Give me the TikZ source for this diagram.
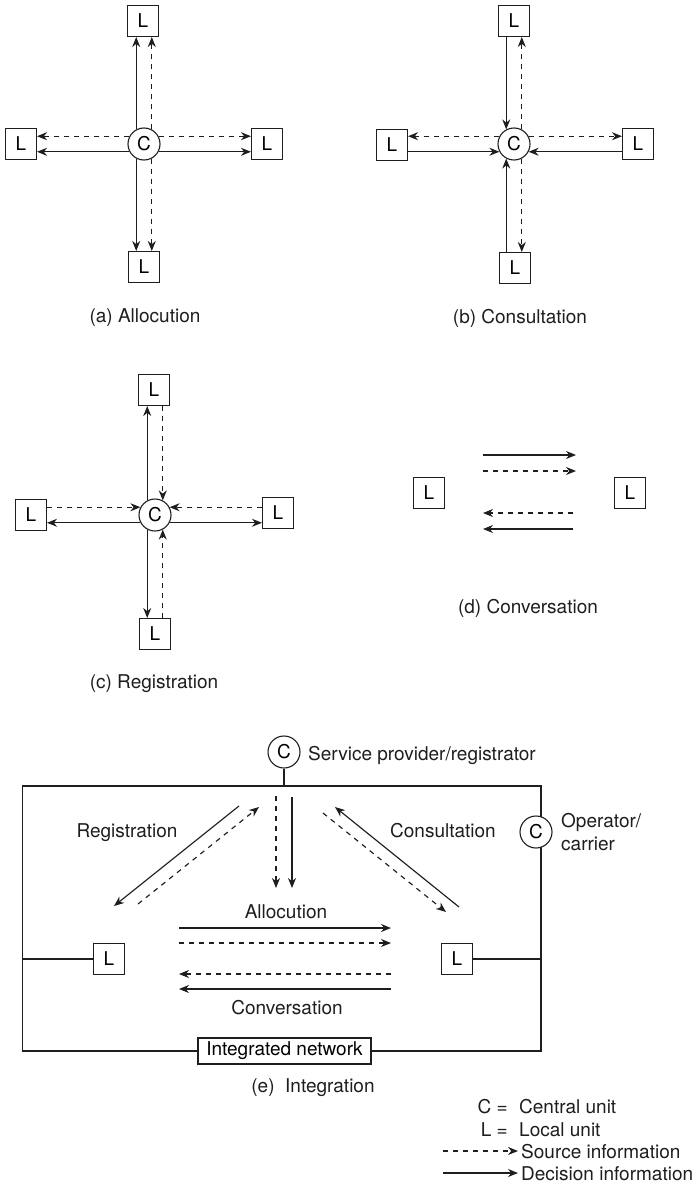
\documentclass[tikz,border=0pt]{standalone}
\usepackage{fontspec}
\setmainfont{TeX Gyre Heros}
\usetikzlibrary{arrows.meta,calc}
\definecolor{ink}{HTML}{1E1E1E}
\tikzset{
  ln/.style={line width=1.15pt, draw=ink},
  sol/.style={ln, -{Stealth[length=10pt,width=8pt]}},
  dsh/.style={sol, dash pattern=on 5pt off 5pt},
  cu/.style={circle, draw=ink, line width=1.1pt, minimum size=32pt, inner sep=0pt, fill=white},
  lu/.style={rectangle, draw=ink, line width=1.1pt, minimum size=31pt, inner sep=0pt, fill=white},
  lbl/.style={inner sep=0pt, text=ink}
}
\begin{document}
\begin{tikzpicture}[x=1pt,y=-1pt,font=\fontsize{19}{22}\selectfont]
\fill[white] (0,0) rectangle (691,1188);
\useasboundingbox (0,0) rectangle (691,1188);

% ---------- (a) Allocution ----------
\node[cu] (Ca) at (144,144) {C};
\node[lu] (Lat) at (143,21) {L};
\node[lu] (Lal) at (21,144) {L};
\node[lu] (Lar) at (267,144) {L};
\node[lu] (Lab) at (144,267) {L};
\draw[sol] (Ca.118) -- (Ca.118 |- Lat.south);
\draw[dsh] (Ca.62) -- (Ca.62 |- Lat.south);
\draw[dsh] (Ca.152) -- (Ca.152 -| Lal.east);
\draw[sol] (Ca.208) -- (Ca.208 -| Lal.east);
\draw[dsh] (Ca.28) -- (Ca.28 -| Lar.west);
\draw[sol] (Ca.332) -- (Ca.332 -| Lar.west);
\draw[sol] (Ca.242) -- (Ca.242 |- Lab.north);
\draw[dsh] (Ca.298) -- (Ca.298 |- Lab.north);
\node[lbl] (capa) at (145,318) {(a) Allocution};

% ---------- (b) Consultation ----------
\node[cu] (Cb) at (514,144) {C};
\node[lu] (Lbt) at (514,21) {L};
\node[lu] (Lbl) at (392,145) {L};
\node[lu] (Lbr) at (638,144) {L};
\node[lu] (Lbb) at (515,268) {L};
\draw[sol] (Cb.118 |- Lbt.south) -- (Cb.118);
\draw[dsh] (Cb.62) -- (Cb.62 |- Lbt.south);
\draw[dsh] (Cb.152) -- (Cb.152 -| Lbl.east);
\draw[sol] (Cb.208 -| Lbl.east) -- (Cb.208);
\draw[dsh] (Cb.28) -- (Cb.28 -| Lbr.west);
\draw[sol] (Cb.332 -| Lbr.west) -- (Cb.332);
\draw[sol] (Cb.242 |- Lbb.north) -- (Cb.242);
\draw[dsh] (Cb.298) -- (Cb.298 |- Lbb.north);
\node[lbl] (capb) at (520,318) {(b) Consultation};

% ---------- (c) Registration ----------
\node[cu] (Cc) at (155,515) {C};
\node[lu] (Lct) at (154,390) {L};
\node[lu] (Lcl) at (31,515) {L};
\node[lu] (Lcr) at (278,513) {L};
\node[lu] (Lcb) at (155,634) {L};
\draw[sol] (Cc.118) -- (Cc.118 |- Lct.south);
\draw[dsh] (Cc.62 |- Lct.south) -- (Cc.62);
\draw[dsh] (Cc.152 -| Lcl.east) -- (Cc.152);
\draw[sol] (Cc.208) -- (Cc.208 -| Lcl.east);
\draw[dsh] (Cc.28 -| Lcr.west) -- (Cc.28);
\draw[sol] (Cc.332) -- (Cc.332 -| Lcr.west);
\draw[sol] (Cc.242) -- (Cc.242 |- Lcb.north);
\draw[dsh] (Cc.298 |- Lcb.north) -- (Cc.298);
\node[lbl] (capc) at (154,684) {(c) Registration};

% ---------- (d) Conversation ----------
\node[lu] (Ldl) at (429,493) {L};
\node[lu] (Ldr) at (630,493) {L};
\coordinate (d1a) at (483,455); \coordinate (d1b) at (576,455);
\coordinate (d2a) at (483,471); \coordinate (d2b) at (576,471);
\coordinate (d3a) at (573,513); \coordinate (d3b) at (483,513);
\coordinate (d4a) at (573,529); \coordinate (d4b) at (483,529);
\draw[sol] (d1a) -- (d1b);
\draw[dsh] (d2a) -- (d2b);
\draw[dsh] (d3a) -- (d3b);
\draw[sol] (d4a) -- (d4b);
\node[lbl] (capd) at (528,608) {(d) Conversation};

% ---------- (e) Integration ----------
\node[draw=ink, line width=1.1pt, minimum width=518.3pt, minimum height=265pt, inner sep=0pt] (net) at (281.85,918.5) {};
\node[cu] (Cet) at (284,752) {C};
\node[lbl, anchor=base west] (sp) at (308,760) {Service provider/registrator};
\draw[ln] (Cet.south) -- (Cet.south |- net.north);
\node[cu] (Cer) at (536,832) {C};
\node[lbl, anchor=base west] (op1) at (561,827) {Operator/};
\node[lbl, anchor=base west] (op2) at (561,850) {carrier};
\node[lu] (Lel) at (109,959) {L};
\node[lu] (Ler) at (457,959) {L};
\draw[ln] (Lel.west) -- (Lel.west -| net.west);
\draw[ln] (Ler.east) -- (Ler.east -| net.east);
\node[draw=ink, line width=1.1pt, fill=white, minimum width=173pt, minimum height=26pt, inner sep=0pt] (inet) at (284.5,1051) {Integrated network};

% registration
\coordinate (r1a) at (239,806); \coordinate (r1b) at (114,906);
\coordinate (r2a) at (138,904); \coordinate (r2b) at (259,807);
\draw[sol] (r1a) -- (r1b);
\draw[dsh] (r2a) -- (r2b);
\node[lbl, anchor=base] (treg) at (127,837) {Registration};
% consultation
\coordinate (c1a) at (459,907); \coordinate (c1b) at (335,807);
\coordinate (c2a) at (323,813); \coordinate (c2b) at (446,912);
\draw[sol] (c1a) -- (c1b);
\draw[dsh] (c2a) -- (c2b);
\node[lbl, anchor=base] (tcon) at (443,837) {Consultation};
% allocution vertical
\coordinate (v1a) at (276,796); \coordinate (v1b) at (276,888);
\coordinate (v2a) at (292,797); \coordinate (v2b) at (292,888);
\draw[dsh] (v1a) -- (v1b);
\draw[sol] (v2a) -- (v2b);
\node[lbl, anchor=base] (tall) at (286,918) {Allocution};
% horizontal
\coordinate (h1a) at (179,928); \coordinate (h1b) at (391,928);
\coordinate (h2a) at (179,943); \coordinate (h2b) at (391,943);
\coordinate (h3a) at (391,974); \coordinate (h3b) at (179,974);
\coordinate (h4a) at (391,989); \coordinate (h4b) at (179,989);
\draw[sol] (h1a) -- (h1b);
\draw[dsh] (h2a) -- (h2b);
\draw[dsh] (h3a) -- (h3b);
\draw[sol] (h4a) -- (h4b);
\node[lbl, anchor=base] (tconv) at (287,1014) {Conversation};
\node[lbl] (cape) at (313,1088) {(e)\ \ Integration};

% ---------- legend ----------
\node[lbl, anchor=base east] (kc) at (508,1113) {C =};
\node[lbl, anchor=base west] (kct) at (519,1113) {Central unit};
\node[lbl, anchor=base east] (kl) at (508,1136) {L =};
\node[lbl, anchor=base west] (klt) at (519,1136) {Local unit};
\coordinate (ks1) at (443,1151); \coordinate (ks2) at (518,1151);
\coordinate (kd1) at (443,1173); \coordinate (kd2) at (518,1173);
\draw[dsh] (ks1) -- (ks2);
\draw[sol] (kd1) -- (kd2);
\node[lbl, anchor=base west] (kst) at (521,1158) {Source information};
\node[lbl, anchor=base west] (kdt) at (521,1180) {Decision information};
\end{tikzpicture}
\end{document}
